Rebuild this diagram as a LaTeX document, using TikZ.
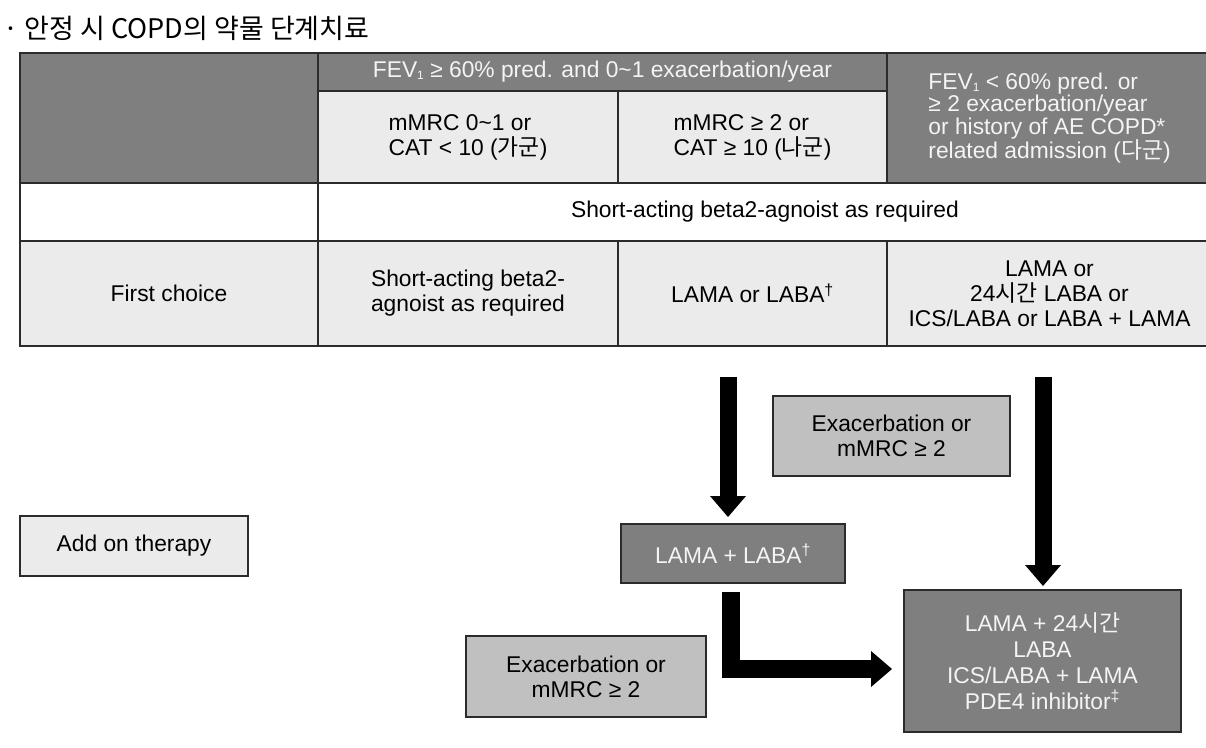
\documentclass[tikz,border=0pt]{standalone}
\usepackage{fontspec}
\setmainfont{Liberation Sans}
\newfontfamily\krfont{Noto Sans CJK KR}
\usetikzlibrary{arrows.meta, positioning}
\definecolor{celldark}{HTML}{7F7F7F}
\definecolor{celllight}{HTML}{EBEBEB}
\definecolor{boxmid}{HTML}{C0C0C0}
\definecolor{gridline}{HTML}{2B2B2B}
\definecolor{textlight}{HTML}{F4F4F4}
\newcommand{\kr}[1]{{\krfont #1}}
\newcommand{\fevsub}{\raisebox{-2pt}{\fontsize{12}{12}\selectfont 1}}
\tikzset{
  cell/.style={
    draw=gridline,
    line width=1.6pt,
    inner sep=0pt,
    outer sep=0pt,
    anchor=north west,
    font=\fontsize{22.8}{25}\selectfont
  },
  darkcell/.style={cell, fill=celldark, text=textlight},
  lightcell/.style={cell, fill=celllight},
  whitecell/.style={cell, fill=white},
  stepbox/.style={
    draw=gridline,
    line width=1.4pt,
    inner sep=0pt,
    outer sep=0pt,
    align=center,
    font=\fontsize{22.8}{25}\selectfont
  },
  fatarrow/.style={line width=17pt, -{Triangle[width=36pt, length=21pt, line width=0pt]}}
}

\begin{document}
\begin{tikzpicture}[x=1pt, y=-1pt]
  \useasboundingbox (0,0) rectangle (1206,747);
  \clip (0,0) rectangle (1206,747);
  \node[anchor=west, font=\krfont\fontsize{27}{30}\selectfont] (title) at (0,28)
    {· 안정 시 COPD의 약물 단계치료};

  \node[darkcell, minimum width=298pt, minimum height=130pt] (corner) at (20,53) {};
  \node[darkcell, minimum width=569pt, minimum height=38pt] (fevhi) at (corner.north east)
    {FEV\fevsub{} ≥ 60\% pred. and 0\textasciitilde 1 exacerbation/year};
  \node[lightcell, minimum width=300pt, minimum height=92pt, align=left] (mmrcA) at (fevhi.south west)
    {mMRC 0\textasciitilde 1 or\\CAT < 10 (\kr{가군})};
  \node[lightcell, minimum width=269pt, minimum height=92pt, align=left, right=0pt of mmrcA] (mmrcB)
    {mMRC ≥ 2 or\\CAT ≥ 10 (\kr{나군})};
  \node[darkcell, minimum width=325pt, minimum height=130pt, align=left,
    font=\fontsize{22.8}{22.5}\selectfont] (fevlo) at (fevhi.north east)
    {FEV\fevsub{} < 60\% pred. or\\≥ 2 exacerbation/year\\or history of AE COPD*\\related admission (\kr{다군})};

  \node[whitecell, minimum width=298pt, minimum height=58pt] (blank) at (corner.south west) {};
  \node[whitecell, minimum width=894pt, minimum height=58pt, right=0pt of blank] (saba)
    {Short-acting beta2-agnoist as required};

  \node[lightcell, minimum width=298pt, minimum height=105pt] (first) at (blank.south west) {First choice};
  \node[lightcell, minimum width=300pt, minimum height=105pt, align=left, right=0pt of first] (choiceA)
    {Short-acting beta2-\\agnoist as required};
  \node[lightcell, minimum width=269pt, minimum height=105pt, right=0pt of choiceA] (choiceB)
    {LAMA or LABA\textsuperscript{†}};
  \node[lightcell, minimum width=325pt, minimum height=105pt, align=center, right=0pt of choiceB] (choiceC)
    {LAMA or\\24\kr{시간} LABA or\\ICS/LABA or LABA + LAMA};

  \node[stepbox, fill=celllight, minimum width=228pt, minimum height=60pt] (addon) at (134,546) {Add on therapy};
  \node[stepbox, fill=boxmid, minimum width=237pt, minimum height=80pt] (exA) at (891.5,436)
    {Exacerbation or\\mMRC ≥ 2};
  \node[stepbox, fill=celldark, text=textlight, minimum width=224pt, minimum height=59pt] (lamalaba) at (733,553.5)
    {LAMA + LABA\textsuperscript{†}};
  \node[stepbox, fill=celldark, text=textlight, minimum width=277pt, minimum height=142pt,
    font=\fontsize{22.8}{26}\selectfont] (triple) at (1042.5,661)
    {LAMA + 24\kr{시간}\\LABA\\ICS/LABA + LAMA\\PDE4 inhibitor\textsuperscript{‡}};
  \node[stepbox, fill=boxmid, minimum width=240pt, minimum height=81pt] (exB) at (586,676.5)
    {Exacerbation or\\mMRC ≥ 2};

  \coordinate (startA) at (728,377);
  \coordinate (startB) at (1043,377);
  \draw[fatarrow, shorten >=7pt] (startA) -- (startA |- lamalaba.north);
  \draw[fatarrow, shorten >=4pt] (startB) -- (startB |- triple.north);
  \draw[fatarrow, line width=18pt, shorten <=9pt, shorten >=12pt]
    ([xshift=-2pt]lamalaba.south) |- ([yshift=-8pt]triple.west);
\end{tikzpicture}
\end{document}
